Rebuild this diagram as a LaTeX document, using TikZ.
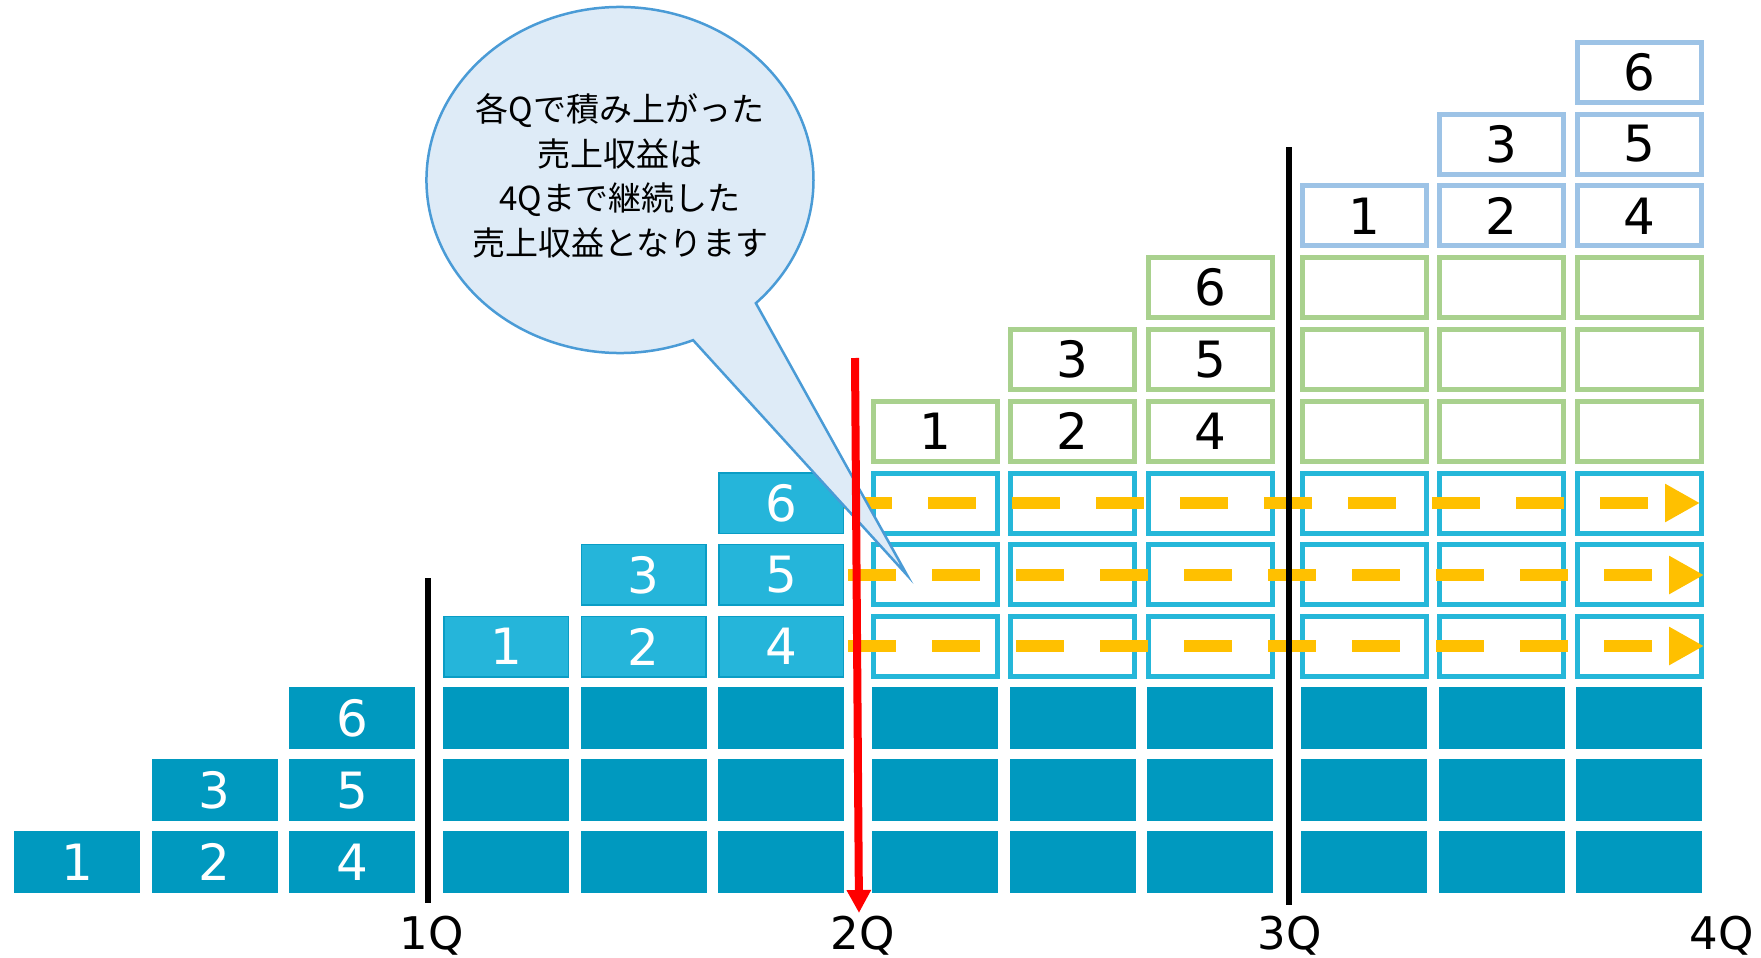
\documentclass[tikz,border=0pt]{standalone}
\usepackage{fontspec}
\setmainfont{DejaVu Sans}
\newfontfamily\jpfont{Noto Sans CJK JP}
\usetikzlibrary{arrows.meta}
\definecolor{darkb}{HTML}{0099BF}
\definecolor{medb}{HTML}{25B5DA}
\definecolor{medbd}{HTML}{0A9DC5}
\definecolor{cyanl}{HTML}{25B7D9}
\definecolor{greenl}{HTML}{A9D18E}
\definecolor{lblue}{HTML}{9DC3E6}
\definecolor{orng}{HTML}{FFC000}
\definecolor{bubfill}{HTML}{DEEBF7}
\definecolor{bubline}{HTML}{4A9BD6}
\definecolor{redl}{HTML}{FF0000}
\begin{document}
\begin{tikzpicture}[x=0.5pt,y=-0.5pt,
  box/.style={inner sep=0pt, minimum width=63pt, minimum height=31pt, font=\fontsize{25}{30}\selectfont},
  darkbox/.style={box, fill=darkb, text=white},
  medbox/.style={box, fill=medb, draw=medbd, line width=0.75pt, minimum width=62.25pt, minimum height=30.25pt, text=white},
  obox/.style={box, fill=white, line width=2.5pt, minimum width=62pt, minimum height=30pt, text=black},
  cyanbox/.style={obox, draw=cyanl},
  greenbox/.style={obox, draw=greenl},
  bluebox/.style={obox, draw=lblue},
  flowline/.style={draw=orng, line width=6pt, dash pattern=on 24pt off 18pt, -{Triangle[length=17.5pt,width=18pt]}},
  qline/.style={draw=black, line width=3pt},
  redarrow/.style={draw=redl, line width=4pt, -{Triangle[length=11.5pt,width=11.5pt]}},
  qlabel/.style={anchor=base, inner sep=0pt, font=\fontsize{22.5}{27}\selectfont},
  bubble/.style={fill=bubfill, draw=bubline, line width=1.25pt, line join=miter},
  bubtext/.style={align=center, inner sep=0pt, font=\jpfont\fontsize{16.5}{22.25}\selectfont}
]
\useasboundingbox (0,0) rectangle (1761,958);
% block 0: staircase of dark boxes
\foreach \c/\r/\t in {0/1/1,1/1/2,2/1/4,1/2/3,2/2/5,2/3/6} {
  \node[darkbox] (a-\c-\r) at ({77+137.5*\c},{862-71.8*(\r-1)}) {\t};
}
% blocks 1-3: full dark rows
\foreach \b in {1,2,3} {
  \foreach \c in {0,1,2} {
    \foreach \r in {1,2,3} {
      \node[darkbox] (d-\b-\c-\r) at ({77+429*\b+137.5*\c},{862-71.8*(\r-1)}) {};
    }
  }
}
% block 1: medium staircase
\foreach \c/\r/\t in {0/1/1,1/1/2,2/1/4,1/2/3,2/2/5,2/3/6} {
  \node[medbox] (m-\c-\r) at ({77+429+137.5*\c},{862-71.8*(\r+2)}) {\t};
}
% blocks 2-3: cyan outlined rows
\foreach \b in {2,3} {
  \foreach \c in {0,1,2} {
    \foreach \r in {1,2,3} {
      \node[cyanbox] (c-\b-\c-\r) at ({77+429*\b+137.5*\c},{862-71.8*(\r+2)}) {};
    }
  }
}
% block 2: green staircase
\foreach \c/\r/\t in {0/1/1,1/1/2,2/1/4,1/2/3,2/2/5,2/3/6} {
  \node[greenbox] (g-\c-\r) at ({77+858+137.5*\c},{862-71.8*(\r+5)}) {\t};
}
% block 3: green full rows
\foreach \c in {0,1,2} {
  \foreach \r in {1,2,3} {
    \node[greenbox] (gg-\c-\r) at ({77+1287+137.5*\c},{862-71.8*(\r+5)}) {};
  }
}
% block 3: light blue staircase
\foreach \c/\r/\t in {0/1/1,1/1/2,2/1/4,1/2/3,2/2/5,2/3/6} {
  \node[bluebox] (l-\c-\r) at ({77+1287+137.5*\c},{862-71.8*(\r+8)}) {\t};
}
% dashed flow arrows
\coordinate (f4s) at (848,646);
\coordinate (f4e) at (1704,646);
\coordinate (f5s) at (848,575);
\coordinate (f5e) at (1704,575);
\coordinate (f6s) at (844,503);
\coordinate (f6e) at (1700,503);
\draw[flowline] (f4s) -- (f4e);
\draw[flowline] (f5s) -- (f5e);
\draw[flowline] (f6s) -- (f6e);
% speech bubble
\draw[bubble] (620,180) ++(67.8:193.5 and 173)
  arc[start angle=67.8, end angle=405.4, x radius=193.5, y radius=173]
  -- (907,575) -- cycle;
\node[bubtext] (btext) at (620,176) {各Qで積み上がった\\売上収益は\\4Qまで継続した\\売上収益となります};
% quarter lines
\coordinate (q1t) at (428,578);
\coordinate (q1b) at (428,903);
\coordinate (q3t) at (1289,147);
\coordinate (q3b) at (1289,905);
\draw[qline] (q1t) -- (q1b);
\draw[qline] (q3t) -- (q3b);
\coordinate (rt) at (855,358);
\coordinate (rb) at (859,913);
\draw[redarrow] (rt) -- (rb);
% labels
\node[qlabel] (q1) at (432,949) {1Q};
\node[qlabel] (q2) at (863,949) {2Q};
\node[qlabel] (q3) at (1290,949) {3Q};
\node[qlabel] (q4) at (1722,949) {4Q};
\end{tikzpicture}
\end{document}
